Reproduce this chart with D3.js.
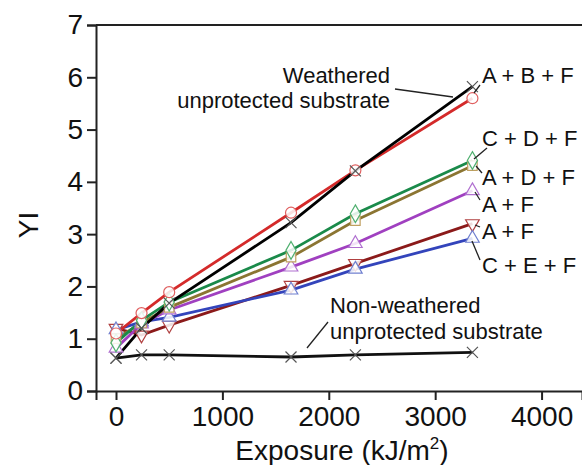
<!DOCTYPE html>
<html><head><meta charset="utf-8">
<script src="https://cdn.jsdelivr.net/npm/d3@7"></script>
<style>body{margin:0;background:#fff}svg text{font-family:"Liberation Sans",Arial,Helvetica,sans-serif}</style>
</head><body><svg id="c" width="582" height="465"></svg>
<script>
const exposure = [0, 240, 500, 1645, 2250, 3350];
const weathered = [0.63, 1.2, 1.68, 3.22, 4.21, 5.82];
const nonWeathered = [0.63, 0.69, 0.69, 0.65, 0.69, 0.74];
const abf = [1.1, 1.49, 1.89, 3.41, 4.22, 5.6];
const cdf = [0.92, 1.35, 1.7, 2.69, 3.39, 4.41];
const adf = [1.0, 1.3, 1.6, 2.56, 3.26, 4.31];
const afPurple = [0.82, 1.28, 1.55, 2.37, 2.82, 3.83];
const afDarkRed = [1.2, 1.07, 1.26, 2.02, 2.44, 3.2];
const cef = [1.17, 1.32, 1.41, 1.93, 2.33, 2.92];
const xTicks = [0, 1000, 2000, 3000, 4000];
const yTicks = [0, 1, 2, 3, 4, 5, 6, 7];

const series = [
  {name:"Non-weathered", values:nonWeathered, color:"#111", mcolor:"#555", marker:"x"},
  {name:"A + F (down)", values:afDarkRed, color:"#8b1a1a", mcolor:"#b04040", marker:"down"},
  {name:"C + E + F", values:cef, color:"#3344bb", mcolor:"#7080d0", marker:"up"},
  {name:"A + F", values:afPurple, color:"#a040c0", mcolor:"#b070d0", marker:"up"},
  {name:"A + D + F", values:adf, color:"#8b7532", mcolor:"#c0a060", marker:"square"},
  {name:"C + D + F", values:cdf, color:"#1a8a4a", mcolor:"#50b070", marker:"diamond"},
  {name:"A + B + F", values:abf, color:"#d42a2a", mcolor:"#e06060", marker:"circle"},
  {name:"Weathered", values:weathered, color:"#000", mcolor:"#555", marker:"x"}
];

const svg = d3.select("#c");
const x = d3.scaleLinear().domain([-188, 4380]).range([96, 582]);
const y = d3.scaleLinear().domain([0, 7]).range([391, 25]);

// frame top
svg.append("line").attr("x1", 96).attr("x2", 582).attr("y1", y(7)).attr("y2", y(7))
  .attr("stroke", "#222").attr("stroke-width", 2);

const xAxis = svg.append("g").attr("transform", `translate(0,${y(0)})`)
  .call(d3.axisBottom(x).tickValues(xTicks).tickSize(9).tickPadding(6).tickFormat(d3.format("d")));
const yAxis = svg.append("g").attr("transform", `translate(96,0)`)
  .call(d3.axisLeft(y).tickValues(yTicks).tickSize(9).tickPadding(4).tickFormat(d3.format("d")));
[xAxis, yAxis].forEach(g => {
  g.select(".domain").attr("stroke", "#222").attr("stroke-width", 2);
  g.selectAll(".tick line").attr("stroke", "#222").attr("stroke-width", 2);
  g.selectAll(".tick text").attr("font-size", 28).attr("fill", "#111")
   .style("font-family", '"Liberation Sans",Arial,sans-serif');
});

svg.append("text").attr("x", 342).attr("y", 460).attr("text-anchor", "middle")
  .attr("font-size", 28).attr("fill", "#111")
  .html('Exposure (kJ/m<tspan dy="-11" font-size="17">2</tspan><tspan dy="11">)</tspan>');
svg.append("text").attr("transform", "translate(38,225) rotate(-90)")
  .attr("text-anchor", "middle").attr("font-size", 28).attr("fill", "#111").text("YI");

const line = d3.line().x((d, i) => x(exposure[i])).y(d => y(d));
series.forEach(s => {
  svg.append("path").attr("d", line(s.values)).attr("fill", "none")
    .attr("stroke", s.color).attr("stroke-width", 2.8);
});

function markerPath(type) {
  const r = 5.5;
  if (type === "x") return `M${-r},${-r}L${r},${r}M${-r},${r}L${r},${-r}`;
  if (type === "circle") return d3.symbol(d3.symbolCircle, 95)();
  if (type === "square") return d3.symbol(d3.symbolSquare, 90)();
  if (type === "diamond") return d3.symbol(d3.symbolDiamond, 90)();
  return d3.symbol(d3.symbolTriangle, 80)();
}
series.forEach(s => {
  svg.append("g").selectAll("path").data(s.values).join("path")
    .attr("d", markerPath(s.marker))
    .attr("transform", (d, i) => `translate(${x(exposure[i])},${y(d)})${s.marker === "down" ? " rotate(180)" : ""}`)
    .attr("fill", s.marker === "x" ? "none" : "#fff").attr("fill-opacity", 0.85)
    .attr("stroke", s.mcolor).attr("stroke-width", 1.2);
});

// annotations
const lab = (t, xx, yy, anchor) => svg.append("text").attr("x", xx).attr("y", yy)
  .attr("font-size", 22).attr("fill", "#111").attr("text-anchor", anchor || "start").text(t);
const lead = (x1, y1, x2, y2) => svg.append("line").attr("x1", x1).attr("y1", y1)
  .attr("x2", x2).attr("y2", y2).attr("stroke", "#222").attr("stroke-width", 1.3);

lab("Weathered", 390, 83, "end");
lab("unprotected substrate", 390, 108, "end");
lead(395, 89, 453, 97);
lab("Non-weathered", 330, 313);
lab("unprotected substrate", 330, 339);
lead(307, 348, 328, 322);

lab("A + B + F", 482, 83); lead(480, 85, 474, 93);
lab("C + D + F", 482, 146); lead(487, 148, 474, 159);
lab("A + D + F", 482, 185); lead(476, 166, 482, 173);
lab("A + F", 482, 212); lead(475, 192, 480, 200);
lab("A + F", 482, 239); lead(475, 225, 480, 227);
lab("C + E + F", 482, 273); lead(472, 241, 480, 260);
</script></body></html>
